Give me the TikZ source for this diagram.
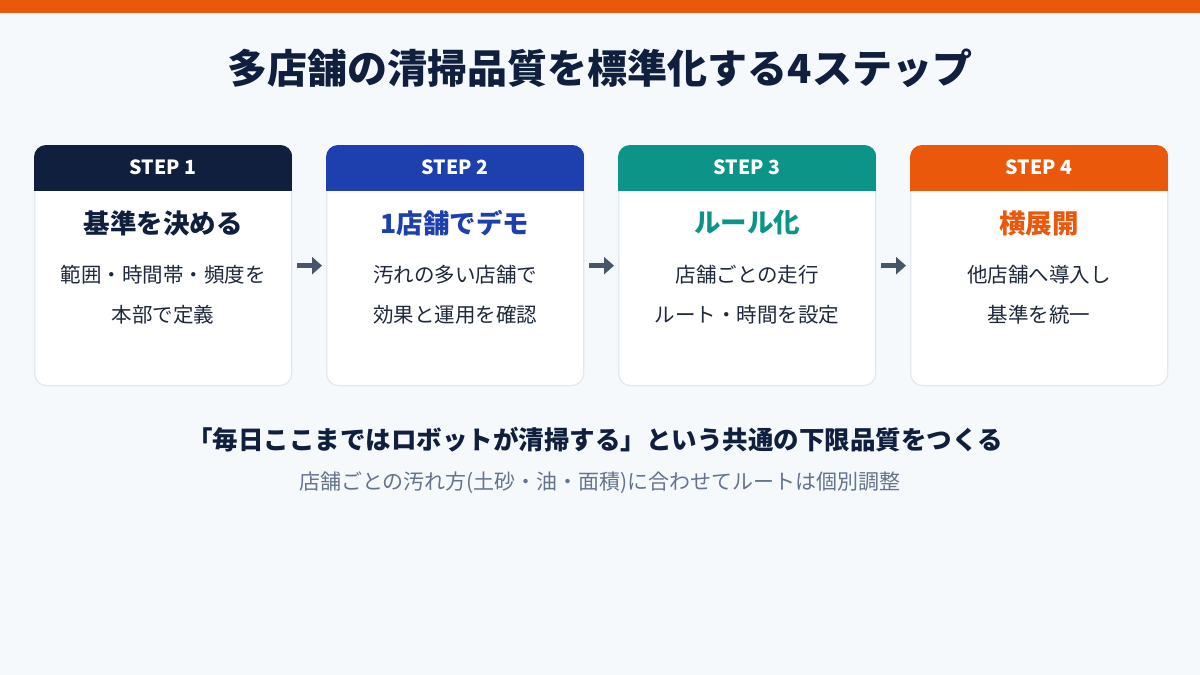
\documentclass[tikz,border=0pt]{standalone}
\usepackage{fontspec}
\setmainfont{Noto Sans CJK JP}
\usepackage{tikz}
\usetikzlibrary{arrows.meta, positioning, calc}
\usepackage{xcolor}
\definecolor{PageBack}{HTML}{F6F9FC}
\definecolor{TopOrange}{HTML}{EA580C}
\definecolor{StepNavy}{HTML}{0F1F3D}
\definecolor{StepBlue}{HTML}{1E40AF}
\definecolor{StepTeal}{HTML}{0D9488}
\definecolor{StepOrange}{HTML}{EA580C}
\definecolor{CardLine}{HTML}{E2E8F0}
\definecolor{ArrowGray}{HTML}{475569}
\definecolor{BodyText}{HTML}{1E293B}
\definecolor{NoteGray}{HTML}{64748B}
\tikzset{
    % Card styles
    stepcard/.style={
        rectangle,
        rounded corners=12pt,
        draw=CardLine,
        line width=1.3pt,
        fill=white,
        minimum width=257pt,
        minimum height=240pt,
        anchor=north west
    },
    steplabel/.style={
        text=white,
        font=\fontsize{19.5}{22}\selectfont\bfseries
    },
    cardtitle/.style={
        font=\fontsize{26.5}{30}\selectfont\bfseries
    },
    cardbody/.style={
        text=BodyText,
        align=center,
        font=\fontsize{20.5}{40}\selectfont
    },
    % Arrow style
    steparrow/.style={
        -{Triangle[length=10pt,width=17pt]},
        line width=5pt,
        ArrowGray
    }
}

\begin{document}
\begin{tikzpicture}[x=1pt, y=-1pt]
    % Background and top bar
    \fill[PageBack] (0,0) rectangle (1200,675);
    \fill[TopOrange] (0,0) rectangle (1200,13);

    % Title
    \node[font=\fontsize{40}{44}\selectfont\bfseries, text=StepNavy] (title) at (600,68) {多店舗の清掃品質を標準化する4ステップ};

    % Step 1
    \node[stepcard] (card1) at (34,145) {};
    \begin{scope}
        \clip[rounded corners=12pt] (card1.north west) rectangle (card1.south east);
        \fill[StepNavy] (card1.north west) rectangle ([yshift=-46pt]card1.north east);
    \end{scope}
    \node[steplabel] (head1) at ([yshift=-22pt]card1.north) {STEP 1};
    \node[cardtitle, text=StepNavy] (name1) at ([yshift=-78pt]card1.north) {基準を決める};
    \node[cardbody] (body1) at ([yshift=-150pt]card1.north) {範囲・時間帯・頻度を\\本部で定義};

    % Step 2
    \node[stepcard] (card2) at (326,145) {};
    \begin{scope}
        \clip[rounded corners=12pt] (card2.north west) rectangle (card2.south east);
        \fill[StepBlue] (card2.north west) rectangle ([yshift=-46pt]card2.north east);
    \end{scope}
    \node[steplabel] (head2) at ([yshift=-22pt]card2.north) {STEP 2};
    \node[cardtitle, text=StepBlue] (name2) at ([yshift=-78pt]card2.north) {1店舗でデモ};
    \node[cardbody] (body2) at ([yshift=-150pt]card2.north) {汚れの多い店舗で\\効果と運用を確認};

    % Step 3
    \node[stepcard] (card3) at (618,145) {};
    \begin{scope}
        \clip[rounded corners=12pt] (card3.north west) rectangle (card3.south east);
        \fill[StepTeal] (card3.north west) rectangle ([yshift=-46pt]card3.north east);
    \end{scope}
    \node[steplabel] (head3) at ([yshift=-22pt]card3.north) {STEP 3};
    \node[cardtitle, text=StepTeal] (name3) at ([yshift=-78pt]card3.north) {ルール化};
    \node[cardbody] (body3) at ([yshift=-150pt]card3.north) {店舗ごとの走行\\ルート・時間を設定};

    % Step 4
    \node[stepcard] (card4) at (910,145) {};
    \begin{scope}
        \clip[rounded corners=12pt] (card4.north west) rectangle (card4.south east);
        \fill[StepOrange] (card4.north west) rectangle ([yshift=-46pt]card4.north east);
    \end{scope}
    \node[steplabel] (head4) at ([yshift=-22pt]card4.north) {STEP 4};
    \node[cardtitle, text=StepOrange] (name4) at ([yshift=-78pt]card4.north) {横展開};
    \node[cardbody] (body4) at ([yshift=-150pt]card4.north) {他店舗へ導入し\\基準を統一};

    % Arrows between steps
    \draw[steparrow] ([xshift=5pt]card1.east) -- ([xshift=-4pt]card2.west);
    \draw[steparrow] ([xshift=5pt]card2.east) -- ([xshift=-4pt]card3.west);
    \draw[steparrow] ([xshift=5pt]card3.east) -- ([xshift=-4pt]card4.west);

    % Summary
    \node[font=\fontsize{25.5}{28}\selectfont\bfseries, text=StepNavy] (summary) at (595,440) {「毎日ここまではロボットが清掃する」という共通の下限品質をつくる};
    \node[font=\fontsize{21}{24}\selectfont, text=NoteGray] (note) at (600,483) {店舗ごとの汚れ方(土砂・油・面積)に合わせてルートは個別調整};
\end{tikzpicture}
\end{document}
